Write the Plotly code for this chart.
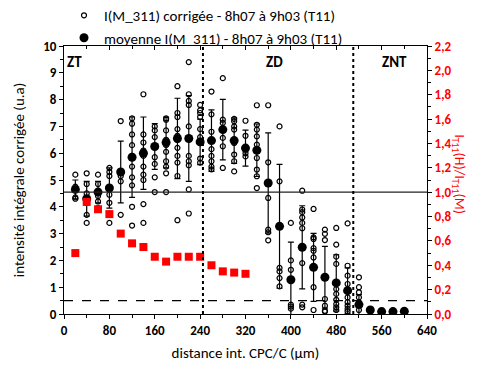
import plotly.graph_objects as go

# ---------------- data ----------------
x_pos = [20, 40, 60, 80, 100, 120, 140, 160, 180, 200, 220, 240, 260, 280, 300,
         320, 340, 360, 380, 400, 420, 440, 460, 480, 500, 520, 540, 560, 580, 600]
mean_vals = [4.65, 4.3, 4.55, 4.7, 5.3, 5.85, 6.0, 6.25, 6.4, 6.55, 6.55, 6.42, 6.47, 6.88, 6.47,
             6.19, 6.11, 4.89, 3.27, 1.28, 2.49, 1.74, 1.37, 1.16, 0.87, 0.35, 0.15, 0.09, 0.09, 0.1]
mean_err = [0.35, 0.65, 0.4, 0.75, 1.15, 1.5, 1.35, 0.85, 0.95, 1.5, 1.6, 0.85, 1.15, 1.13, 0.85,
            0.67, 0.98, 1.87, 2.31, 1.4, 1.55, 1.27, 1.15, 1.05, 0.85, 0.37, 0, 0, 0, 0]

indiv_x = [20, 40, 60, 80, 100, 120, 140, 160, 180, 200, 220, 240, 260, 280, 300,
           320, 340, 360, 380, 400, 420, 440, 460, 480, 500, 520]
indiv_y = [
    [5.2, 4.75, 4.35, 4.3],
    [5.25, 4.85, 4.5, 4.15, 3.7, 3.4],
    [5.2, 4.85, 4.55, 4.4, 4.2, 3.95],
    [5.45, 5.3, 5.15, 4.65, 4.45, 4.15, 3.75, 3.4],
    [7.2, 5.3, 5.15, 4.95, 3.7],
    [7.3, 7.1, 6.7, 6.3, 5.9, 5.5, 5.1, 4.8, 4.0, 3.3],
    [8.2, 6.7, 6.4, 6.1, 5.9, 5.5, 5.2, 5.0, 4.1, 3.4],
    [7.0, 6.85, 6.6, 5.85, 5.6, 5.1, 4.55],
    [7.3, 7.25, 6.85, 6.5, 6.3, 6.05, 5.7, 5.5, 5.25, 4.55],
    [8.5, 7.5, 7.35, 6.9, 6.65, 6.5, 6.2, 5.9, 5.65, 5.15, 3.5],
    [9.4, 8.2, 7.95, 7.8, 7.0, 5.9, 5.7, 5.55, 4.65, 3.75],
    [7.8, 7.6, 7.5, 7.35, 6.9, 6.6, 5.8, 5.65],
    [8.3, 7.45, 6.8, 6.45, 6.15, 5.9, 5.7, 5.5, 5.4],
    [8.8, 7.25, 7.13, 6.9, 6.57, 6.26, 5.45],
    [7.28, 7.19, 7.0, 6.88, 6.38, 5.95, 5.7, 5.32],
    [7.21, 6.65, 6.13, 6.0, 5.88],
    [7.79, 7.06, 6.88, 6.63, 6.32, 6.11, 5.82, 5.39, 5.14, 4.7],
    [7.79, 5.66, 4.33, 3.15, 3.05, 2.75],
    [7.0, 4.95, 1.72, 1.59, 1.34, 1.03],
    [3.4, 2.0, 1.65, 0.35, 0.28, 0.2],
    [4.6, 3.9, 3.8, 3.6, 3.4, 3.2, 2.5, 1.9, 0.35, 0.25],
    [3.92, 2.86, 2.8, 2.46, 2.36, 2.11, 1.0, 0.15],
    [3.15, 2.99, 2.76, 0.56, 0.31, 0.12, 0.09],
    [3.21, 2.59, 2.14, 1.87, 0.93, 0.75, 0.53, 0.37, 0.25, 0.15],
    [3.38, 1.8, 1.43, 1.12, 0.9, 0.62, 0.44, 0.31, 0.19, 0.1],
    [1.37, 1.0, 0.81, 0.62, 0.44, 0.15],
]

ratio_x = [20, 40, 60, 80, 100, 120, 140, 160, 180, 200, 220, 240, 260, 280, 300, 320]
ratio_vals = [0.50, 0.92, 0.86, 0.82, 0.66, 0.58, 0.55, 0.47, 0.43, 0.47, 0.47, 0.47, 0.40, 0.35, 0.34, 0.33]

ref_ratio = 1.0
dash_level = 0.5
zone_bounds = [245, 510]
zone_labels = ["ZT", "ZD", "ZNT"]
zone_label_x = [2, 371, 582]

x_ticks = [0, 80, 160, 240, 320, 400, 480, 560, 640]

legend_indiv = "I(M_311) corrigée - 8h07 à 9h03 (T11)"
legend_mean = "moyenne I(M_311) - 8h07 à 9h03 (T11)"
x_title = "distance int. CPC/C (µm)"
y_title = "intensité intégrale corrigée (u.a)"
y2_title = "I<sub>T11</sub>(H)/I<sub>T11</sub>(M)"

# ---------------- figure ----------------
FONT = "Carlito, Liberation Sans Narrow, Open Sans, sans-serif"

flat_x, flat_y = [], []
for xv, ys in zip(indiv_x, indiv_y):
    for yv in ys:
        flat_x.append(xv)
        flat_y.append(yv)

fig = go.Figure()
fig.add_trace(go.Scatter(
    x=flat_x, y=flat_y, mode="markers", name=legend_indiv,
    marker=dict(symbol="circle-open", size=5, color="black", line=dict(width=1.2)),
))
fig.add_trace(go.Scatter(
    x=x_pos, y=mean_vals, mode="markers", name=legend_mean,
    marker=dict(symbol="circle", size=9, color="black"),
    error_y=dict(type="data", array=mean_err, visible=True, color="black", thickness=1.2, width=3),
))
fig.add_trace(go.Scatter(
    x=ratio_x, y=ratio_vals, mode="markers", yaxis="y2", showlegend=False,
    marker=dict(symbol="square", size=8, color="#ff0000"),
))
# empty trace anchoring the top axis (inward ticks, as in the reference frame)
fig.add_trace(go.Scatter(x=[], y=[], xaxis="x2", yaxis="y", showlegend=False, hoverinfo="skip"))

y_scale = 10 / 2.2
fig.add_shape(type="line", xref="x", yref="y", x0=0, x1=640, y0=ref_ratio * y_scale, y1=ref_ratio * y_scale,
              line=dict(color="#222222", width=1.3))
fig.add_shape(type="line", xref="x", yref="y", x0=0, x1=640, y0=dash_level, y1=dash_level,
              line=dict(color="black", width=1.2, dash="dash"))
for xb in zone_bounds:
    fig.add_shape(type="line", xref="x", yref="y", x0=xb, x1=xb, y0=0, y1=10,
                  line=dict(color="black", width=2, dash="dot"))

for lab, lx in zip(zone_labels, zone_label_x):
    fig.add_annotation(x=lx, y=9.4, xref="x", yref="y", text="<b>%s</b>" % lab, showarrow=False,
                       xanchor="left" if lab == "ZT" else "center",
                       font=dict(family=FONT, size=15, color="black"))

fig.add_annotation(x=1.118, y=0.52, xref="paper", yref="paper", text=y2_title, textangle=90,
                   showarrow=False, font=dict(family=FONT, size=14, color="#ff0000"))

fig.update_layout(
    width=483, height=371,
    margin=dict(l=56, r=64, t=38, b=65, autoexpand=False),
    paper_bgcolor="white", plot_bgcolor="white",
    separators=", ",
    font=dict(family=FONT, size=14, color="black"),
    showlegend=True,
    legend=dict(x=0.0, y=0.97, xanchor="left", yanchor="bottom", bgcolor="rgba(0,0,0,0)",
                font=dict(family=FONT, size=15), itemwidth=30, tracegroupgap=0),
    xaxis=dict(range=[0, 640], tickvals=x_ticks, showgrid=False, zeroline=False,
               showline=True, linecolor="black", linewidth=1,
               ticks="outside", ticklen=4, tickcolor="black",
               minor=dict(dtick=40, tick0=0, ticks="outside", ticklen=3, tickcolor="black"),
               tickfont=dict(family=FONT, size=13, color="black", weight="bold"),
               title=dict(text=x_title, font=dict(family=FONT, size=15), standoff=10)),
    xaxis2=dict(range=[0, 640], overlaying="x", side="top", tickvals=x_ticks, showgrid=False,
                zeroline=False, showline=True, linecolor="black", linewidth=1,
                ticks="inside", ticklen=4, tickcolor="black", showticklabels=False,
                minor=dict(dtick=40, tick0=0, ticks="inside", ticklen=3, tickcolor="black")),
    yaxis=dict(range=[0, 10], dtick=1, showgrid=False, zeroline=False,
               showline=True, linecolor="black", linewidth=1,
               ticks="outside", ticklen=4, tickcolor="black",
               minor=dict(dtick=0.5, ticks="outside", ticklen=3, tickcolor="black"),
               tickfont=dict(family=FONT, size=13, color="black", weight="bold"),
               title=dict(text=y_title, font=dict(family=FONT, size=15), standoff=14)),
    yaxis2=dict(range=[0, 2.2], dtick=0.2, tickformat=".1f", overlaying="y", side="right",
                showgrid=False, zeroline=False, showline=True, linecolor="black", linewidth=1,
                ticks="outside", ticklen=4, tickcolor="black",
                minor=dict(dtick=0.1, ticks="outside", ticklen=3, tickcolor="black"),
                tickfont=dict(family=FONT, size=13, color="#ff0000", weight="bold")),
)

fig.write_html("out.html")
